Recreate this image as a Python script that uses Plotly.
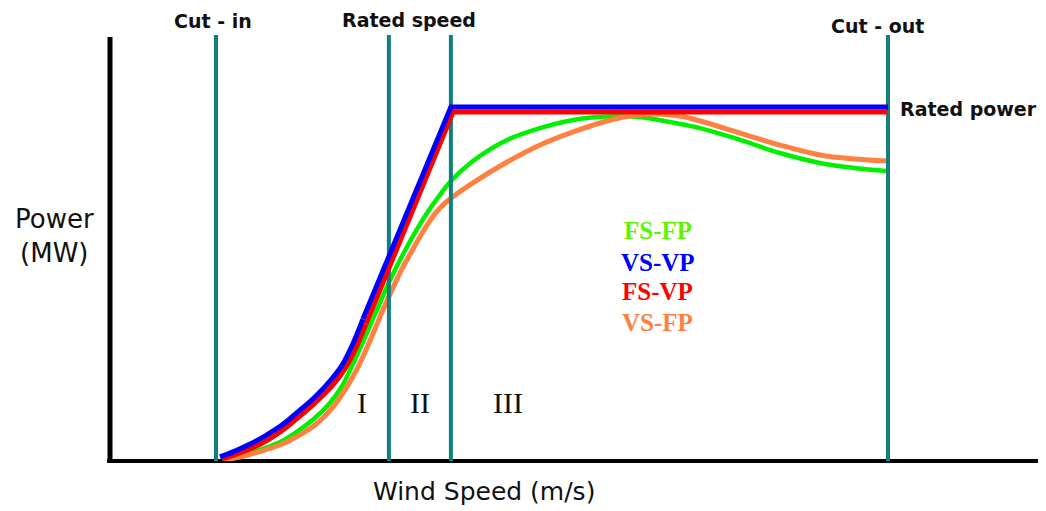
import plotly.graph_objects as go

# Wind speed thresholds (m/s): cut-in, region I/II boundary, rated speed, cut-out
thresholds = [3.0, 8.66, 10.69, 25.0]
rated_power = 2.0
line_top = 2.407

# VS-VP (blue)
vsvp_x = [3.13, 3.62, 4.05, 4.60, 5.16, 5.68, 6.24, 6.73, 7.13, 7.45, 7.81, 8.21, 8.66, 9.68, 10.69, 25.0]
vsvp_y = [0.023, 0.056, 0.090, 0.141, 0.203, 0.277, 0.362, 0.452, 0.542, 0.650, 0.802, 0.966, 1.153, 1.576, 2.0, 2.0]

# FS-VP (red)
fsvp_x = [3.20, 3.69, 4.11, 4.64, 5.19, 5.75, 6.27, 6.80, 7.22, 7.55, 7.91, 8.30, 8.76, 9.78, 10.76, 24.97]
fsvp_y = [0.011, 0.040, 0.068, 0.113, 0.175, 0.254, 0.333, 0.424, 0.520, 0.627, 0.774, 0.938, 1.130, 1.554, 1.972, 1.972]

# FS-FP (green)
fsfp_x = [3.20, 3.62, 4.05, 4.60, 5.16, 5.68, 6.24, 6.73, 7.13, 7.45, 7.78, 8.21, 8.70, 9.25, 9.91, 10.33, 10.66, 11.41,
          12.53, 13.61, 14.69, 15.80, 16.88, 17.86, 18.85, 20.16, 21.46, 22.77, 23.92, 24.97]
fsfp_y = [0.011, 0.028, 0.045, 0.073, 0.113, 0.169, 0.243, 0.328, 0.424, 0.537, 0.661, 0.831, 1.023, 1.209, 1.401, 1.503, 1.576, 1.695,
          1.814, 1.881, 1.927, 1.946, 1.944, 1.915, 1.881, 1.814, 1.740, 1.684, 1.655, 1.638]

# VS-FP (orange)
vsfp_x = [3.23, 3.62, 4.05, 4.60, 5.16, 5.68, 6.24, 6.80, 7.32, 7.65, 7.98, 8.37, 8.70, 9.09, 9.45, 9.91, 10.33, 10.66,
          11.41, 12.53, 13.61, 14.69, 15.80, 16.55, 17.37, 18.19, 18.85, 20.16, 21.46, 22.77, 23.92, 24.97]
vsfp_y = [0.006, 0.017, 0.034, 0.062, 0.096, 0.141, 0.203, 0.299, 0.429, 0.531, 0.655, 0.814, 0.944, 1.085, 1.198, 1.333, 1.429, 1.480,
          1.571, 1.689, 1.785, 1.859, 1.921, 1.949, 1.960, 1.949, 1.921, 1.853, 1.785, 1.729, 1.706, 1.695]

legend_names = ["FS-FP", "VS-VP", "FS-VP", "VS-FP"]
legend_colors = ["#5CF500", "#0000FF", "#FF0000", "#FF8040"]
legend_y = [1.305, 1.124, 0.955, 0.785]
region_labels = ["I", "II", "III"]
region_x = [7.78, 9.68, 12.56]

GREEN = "#00F000"
ORANGE = "#FF8040"
TEAL = "#0F7F80"
SPLIT = 10  # index where the curved part turns into the straight ramp

fig = go.Figure()
fig.add_trace(go.Scatter(x=fsfp_x, y=fsfp_y, mode="lines",
                         line=dict(color=GREEN, width=4.5, shape="spline", smoothing=1)))
fig.add_trace(go.Scatter(x=vsfp_x, y=vsfp_y, mode="lines",
                         line=dict(color=ORANGE, width=5, shape="spline", smoothing=1)))
for t in thresholds:
    fig.add_trace(go.Scatter(x=[t, t], y=[0, line_top], mode="lines", line=dict(color=TEAL, width=4)))
for xs, ys, col in [(fsvp_x, fsvp_y, "#FF0000"), (vsvp_x, vsvp_y, "#0000FF")]:
    fig.add_trace(go.Scatter(x=xs[:SPLIT + 1], y=ys[:SPLIT + 1], mode="lines",
                             line=dict(color=col, width=5, shape="spline", smoothing=1)))
    fig.add_trace(go.Scatter(x=xs[SPLIT:], y=ys[SPLIT:], mode="lines",
                             line=dict(color=col, width=5)))

# axis lines
fig.add_shape(type="line", xref="paper", yref="paper", x0=0, x1=0, y0=-0.004, y1=0.984,
              line=dict(color="black", width=5), layer="below")
fig.add_shape(type="line", xref="paper", yref="paper", x0=-0.003, x1=1, y0=0, y1=0,
              line=dict(color="black", width=4), layer="below")

lab_font = dict(family="DejaVu Sans", size=19, color="#111111", weight="bold")
fig.add_annotation(x=thresholds[0] - 0.1, y=1.021, xref="x", yref="paper", text="Cut - in",
                   showarrow=False, font=lab_font, xanchor="center", yanchor="middle")
fig.add_annotation(x=9.32, y=1.023, xref="x", yref="paper", text="Rated speed",
                   showarrow=False, font=lab_font, xanchor="center", yanchor="middle")
fig.add_annotation(x=thresholds[3] - 0.33, y=1.009, xref="x", yref="paper", text="Cut - out",
                   showarrow=False, font=lab_font, xanchor="center", yanchor="middle")
fig.add_annotation(x=25.33, y=rated_power - 0.01, xref="x", yref="y", text="Rated power",
                   showarrow=False, font=lab_font, xanchor="left", yanchor="middle")

ax_font = dict(family="DejaVu Sans", size=25, color="#111111")
fig.add_annotation(x=-0.0588, y=0.522, xref="paper", yref="paper", text="Power<br>(MW)",
                   showarrow=False, font=dict(family="DejaVu Sans", size=26, color="#111111"),
                   xanchor="center", yanchor="middle")
fig.add_annotation(x=11.77, y=-0.0719, xref="x", yref="paper", text="Wind Speed (m/s)",
                   showarrow=False, font=ax_font, xanchor="center", yanchor="middle")

for lbl, xx in zip(region_labels, region_x):
    fig.add_annotation(x=xx, y=0.333, xref="x", yref="y", text=lbl, showarrow=False,
                       font=dict(family="Liberation Serif", size=30, color="#111111"),
                       xanchor="center", yanchor="middle")

for name, col, yy in zip(legend_names, legend_colors, legend_y):
    fig.add_annotation(x=17.47, y=yy, xref="x", yref="y", text=name, showarrow=False,
                       font=dict(family="Liberation Serif", size=25, color=col, weight="bold"),
                       xanchor="center", yanchor="middle")

# the page body has an 8px margin, so the figure is 8px smaller and its margins shifted
fig.update_layout(
    width=1038, height=503,
    margin=dict(l=102, r=0, t=22, b=50),
    paper_bgcolor="white", plot_bgcolor="white",
    showlegend=False,
    xaxis=dict(range=[-0.470, 30.173], showgrid=False, zeroline=False, showticklabels=False,
               showline=False, ticks=""),
    yaxis=dict(range=[0, 2.435], showgrid=False, zeroline=False, showticklabels=False,
               showline=False, ticks=""),
)

fig.write_html("out.html")
